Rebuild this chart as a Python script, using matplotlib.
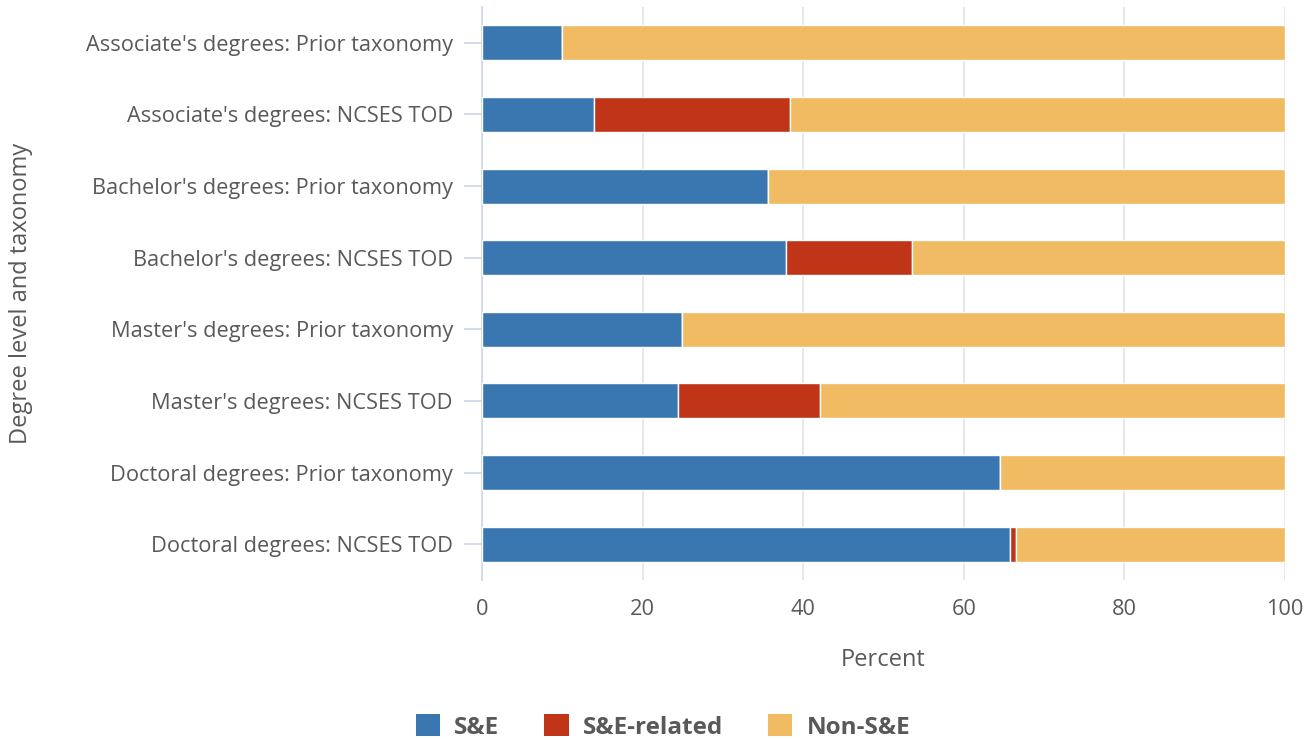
import matplotlib.pyplot as plt
import numpy as np
from matplotlib.patches import Patch

plt.rcParams["font.family"] = ["Open Sans", "DejaVu Sans"]

CATEGORIES = [
    "Associate's degrees: Prior taxonomy",
    "Associate's degrees: NCSES TOD",
    "Bachelor's degrees: Prior taxonomy",
    "Bachelor's degrees: NCSES TOD",
    "Master's degrees: Prior taxonomy",
    "Master's degrees: NCSES TOD",
    "Doctoral degrees: Prior taxonomy",
    "Doctoral degrees: NCSES TOD",
]
SE = [10.0, 13.9, 35.6, 37.9, 24.9, 24.4, 64.5, 65.7]
SE_RELATED = [0.0, 24.5, 0.0, 15.6, 0.0, 17.7, 0.0, 0.8]
NON_SE = [100 - a - b for a, b in zip(SE, SE_RELATED)]

SERIES = ["S&E", "S&E-related", "Non-S&E"]
COLORS = ["#3a77b0", "#c03418", "#f0bb62"]
TEXT = "#595959"

fig = plt.figure(figsize=(13.16, 7.4), dpi=100)
ax = fig.add_axes([482 / 1316, 1 - 580 / 740, (1285 - 482) / 1316, 573 / 740])

y = np.arange(len(CATEGORIES))
left = np.zeros(len(CATEGORIES))
for vals, col in zip([SE, SE_RELATED, NON_SE], COLORS):
    vals = np.array(vals)
    ax.barh(y, vals, left=left, height=0.49, color=col, edgecolor="white",
            linewidth=1, zorder=3)
    left += vals

ax.set_ylim(len(CATEGORIES) - 0.5, -0.5)
ax.set_xlim(0, 100)
ax.set_yticks(y)
ax.set_yticklabels(CATEGORIES, fontsize=15.7, color=TEXT)
ax.set_xticks([0, 20, 40, 60, 80, 100])
ax.tick_params(axis="x", length=0, labelsize=15.7, labelcolor=TEXT, pad=14)
ax.tick_params(axis="y", length=13, width=1.2, color="#ccd6eb", pad=8)
ax.grid(axis="x", color="#e3e3e3", linewidth=1.2, zorder=0)
for s in ["top", "right", "bottom"]:
    ax.spines[s].set_visible(False)
ax.spines["left"].set_color("#ccd6eb")
ax.spines["left"].set_linewidth(1.2)

ax.set_xlabel("Percent", fontsize=17, color=TEXT, labelpad=20)
fig.text(21 / 1316, 1 - 293 / 740, "Degree level and taxonomy", rotation=90,
         fontsize=17, color=TEXT, ha="center", va="center")

handles = [Patch(facecolor=c, edgecolor="none") for c in COLORS]
leg = fig.legend(handles, SERIES, loc="center", bbox_to_anchor=(663 / 1316, 1 - 727 / 740),
                 ncol=3, frameon=False, fontsize=17.5, handlelength=1.0, handleheight=1.0,
                 columnspacing=1.85, handletextpad=0.58)
for t in leg.get_texts():
    t.set_color(TEXT)
    t.set_fontweight("bold")

fig.savefig("out.png", dpi=100)
